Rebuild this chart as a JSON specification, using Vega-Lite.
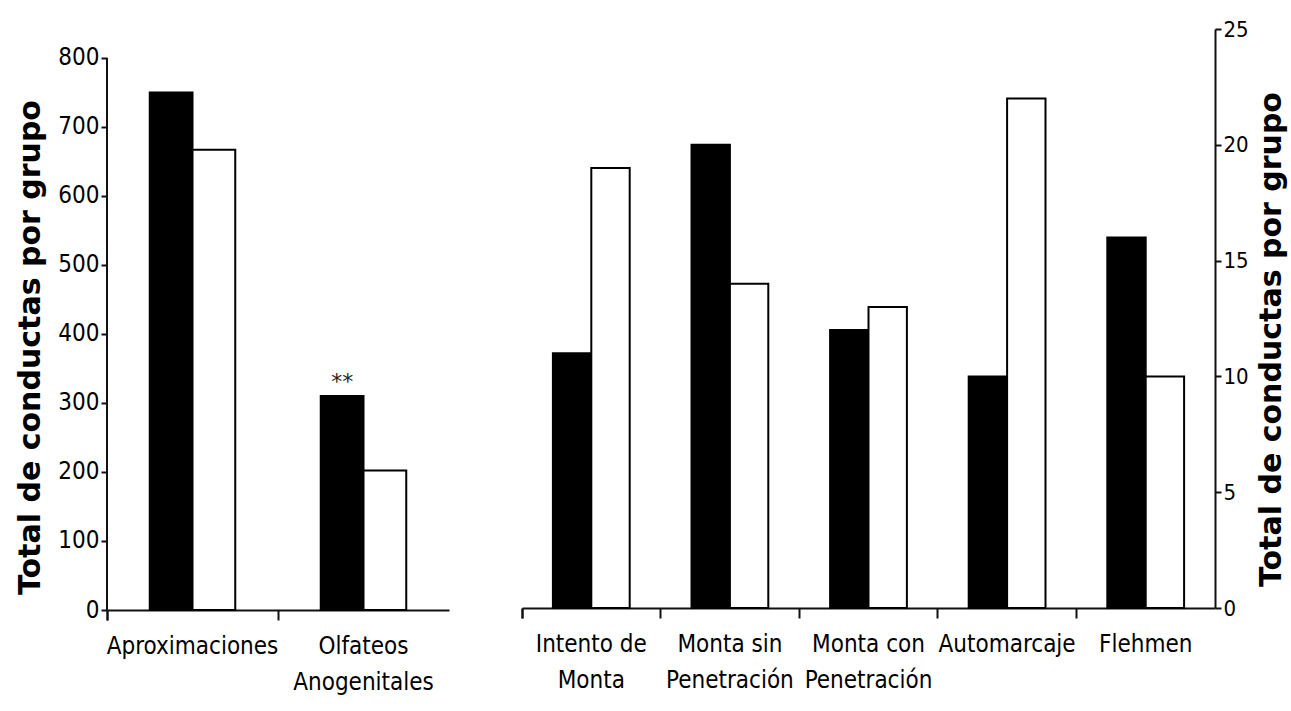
{
  "$schema": "https://vega.github.io/schema/vega-lite/v6.json",
  "padding": {"left": 15, "top": 18, "right": 5, "bottom": 5},
  "background": "white",
  "resolve": {"scale": {"xOffset": "independent", "fill": "independent"}},
  "config": {
    "view": {"stroke": null},
    "axis": {
      "grid": false,
      "domainColor": "#111",
      "domainWidth": 2,
      "tickColor": "#111",
      "tickWidth": 2,
      "labelColor": "#000",
      "titleColor": "#000",
      "labelLimit": 400,
      "labelFont": "DejaVu Sans Condensed, Liberation Sans Narrow, Liberation Sans, sans-serif",
      "titleFont": "DejaVu Sans",
      "titleFontWeight": "bold"
    }
  },
  "datasets": {
    "izquierda": [
      {"conducta": "Aproximaciones", "grupo": "Grupo 1", "total": 750},
      {"conducta": "Aproximaciones", "grupo": "Grupo 2", "total": 667},
      {"conducta": "Olfateos Anogenitales", "grupo": "Grupo 1", "total": 310, "nota": "**"},
      {"conducta": "Olfateos Anogenitales", "grupo": "Grupo 2", "total": 202}
    ],
    "derecha": [
      {"conducta": "Intento de Monta", "grupo": "Grupo 1", "total": 11},
      {"conducta": "Intento de Monta", "grupo": "Grupo 2", "total": 19},
      {"conducta": "Monta sin Penetración", "grupo": "Grupo 1", "total": 20},
      {"conducta": "Monta sin Penetración", "grupo": "Grupo 2", "total": 14},
      {"conducta": "Monta con Penetración", "grupo": "Grupo 1", "total": 12},
      {"conducta": "Monta con Penetración", "grupo": "Grupo 2", "total": 13},
      {"conducta": "Automarcaje", "grupo": "Grupo 1", "total": 10},
      {"conducta": "Automarcaje", "grupo": "Grupo 2", "total": 22},
      {"conducta": "Flehmen", "grupo": "Grupo 1", "total": 16},
      {"conducta": "Flehmen", "grupo": "Grupo 2", "total": 10}
    ]
  },
  "spacing": 72,
  "hconcat": [
    {
      "width": 342,
      "height": 581,
      "data": {"name": "izquierda"},
      "layer": [
        {
          "mark": {"type": "bar", "stroke": "#000", "strokeWidth": 2},
          "encoding": {
            "x": {
              "field": "conducta", "type": "nominal", "sort": null,
              "scale": {"paddingInner": 0, "paddingOuter": 0},
              "axis": {
                "title": null, "labelAngle": 0, "tickSize": 10, "bandPosition": 0, "tickExtra": true,
                "labelPadding": 14, "labelFontSize": 24, "labelLineHeight": 36,
                "labelExpr": "!isString(datum.value) ? '' : indexof(datum.value, ' ') < 0 ? datum.value : [slice(datum.value, 0, lastindexof(datum.value, ' ')), slice(datum.value, lastindexof(datum.value, ' ') + 1)]"
              }
            },
            "xOffset": {"field": "grupo", "type": "nominal", "sort": null, "scale": {"paddingInner": 0, "paddingOuter": 1}},
            "y": {
              "field": "total", "type": "quantitative",
              "scale": {"domain": [0, 842], "nice": false},
              "axis": {
                "title": "Total de conductas por grupo", "titleFontSize": 30, "titlePadding": 12, "titleY": 318,
                "values": [0, 100, 200, 300, 400, 500, 600, 700, 800], "domain": false,
                "tickSize": 6, "labelPadding": 2, "labelFontSize": 24
              }
            },
            "fill": {"field": "grupo", "type": "nominal", "scale": {"range": ["#000", "#fff"]}, "legend": null}
          }
        },
        {
          "transform": [{"filter": "isValid(datum.nota)"}],
          "mark": {"type": "text", "dy": -14, "fontSize": 22, "font": "DejaVu Sans", "color": "#222"},
          "encoding": {
            "x": {"field": "conducta", "type": "nominal", "sort": null},
            "xOffset": {"field": "grupo", "type": "nominal", "sort": null},
            "y": {"field": "total", "type": "quantitative"},
            "text": {"field": "nota"}
          }
        },
        {
          "mark": {"type": "rule", "color": "#111", "strokeWidth": 2},
          "encoding": {
            "x": {"datum": "Aproximaciones", "type": "nominal", "bandPosition": 0},
            "y": {"datum": 0, "type": "quantitative"},
            "y2": {"datum": 800}
          }
        }
      ]
    },
    {
      "width": 693,
      "height": 579,
      "data": {"name": "derecha"},
      "mark": {"type": "bar", "stroke": "#000", "strokeWidth": 2},
      "encoding": {
        "x": {
          "field": "conducta", "type": "nominal", "sort": null,
          "scale": {"paddingInner": 0, "paddingOuter": 0},
          "axis": {
            "title": null, "labelAngle": 0, "tickSize": 10, "bandPosition": 0, "tickExtra": true,
            "labelPadding": 14, "labelFontSize": 24, "labelLineHeight": 36,
            "labelExpr": "!isString(datum.value) ? '' : indexof(datum.value, ' ') < 0 ? datum.value : [slice(datum.value, 0, lastindexof(datum.value, ' ')), slice(datum.value, lastindexof(datum.value, ' ') + 1)]"
          }
        },
        "xOffset": {"field": "grupo", "type": "nominal", "sort": null, "scale": {"paddingInner": 0, "paddingOuter": 0.805}},
        "y": {
          "field": "total", "type": "quantitative",
          "scale": {"domain": [0, 25]},
          "axis": {
            "orient": "right",
            "title": "Total de conductas por grupo", "titleFontSize": 30, "titlePadding": 8,
            "titleAngle": 270, "titleBaseline": "top", "titleY": 310,
            "values": [0, 5, 10, 15, 20, 25],
            "tickSize": 6, "labelPadding": 2, "labelFontSize": 22
          }
        },
        "fill": {"field": "grupo", "type": "nominal", "scale": {"range": ["#000", "#fff"]}, "legend": null}
      }
    }
  ]
}
